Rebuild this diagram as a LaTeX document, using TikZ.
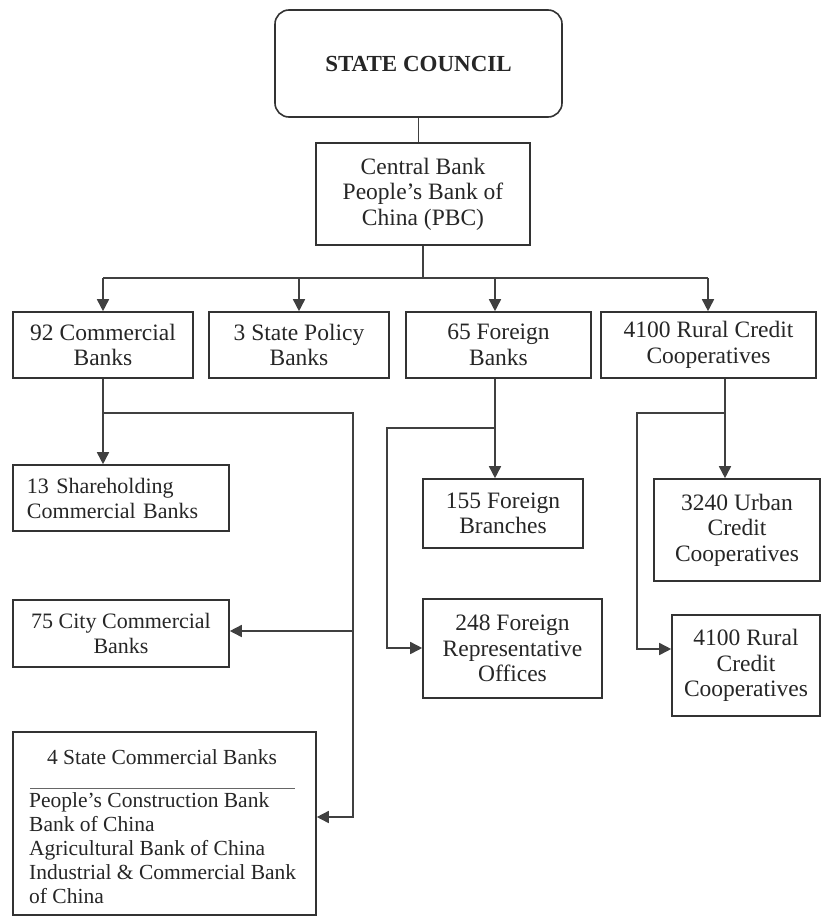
\documentclass[tikz,border=0pt]{standalone}
\usepackage{fontspec}
\setmainfont{Liberation Serif}
\usetikzlibrary{arrows.meta}
\begin{document}
\begin{tikzpicture}[x=1pt,y=-1pt,
  box/.style={draw=black!80, line width=1.6pt, fill=white, text=black!85, align=center, inner sep=2pt, font=\fontsize{23.5}{25.5}\selectfont},
  lbox/.style={box, align=left, inner xsep=14pt},
  conn/.style={draw=black!75, line width=1.6pt},
  arr/.style={conn, -{Triangle[length=12pt,width=12pt]}},
  plain/.style={text=black!85, inner sep=0pt, font=\fontsize{21.5}{24}\selectfont}]
\useasboundingbox (0,0) rectangle (823,918);
% top
\node[box, rounded corners=14pt, minimum width=287pt, minimum height=107pt, font=\fontsize{23}{25}\selectfont\bfseries] (sc) at (418.5,63.5) {STATE COUNCIL};
\node[box, minimum width=214pt, minimum height=102pt] (cb) at (423,194) {Central Bank\\People's Bank of\\China (PBC)};
% row
\node[box, minimum width=180pt, minimum height=66pt] (b92) at (103,345) {92 Commercial\\Banks};
\node[box, minimum width=180pt, minimum height=66pt] (b3) at (299,345) {3 State Policy\\Banks};
\node[box, minimum width=185pt, minimum height=66pt] (b65) at (498.5,345) {65 Foreign\\Banks};
\node[box, minimum width=215pt, minimum height=66pt] (b41) at (708.5,345) {4100 Rural Credit\\Cooperatives};
% commercial column
\node[lbox, minimum width=216pt, minimum height=66pt, text width=188pt, font=\fontsize{22}{25}\selectfont] (b13) at (121,498) {13 Shareholding\\Commercial Banks};
\node[box, minimum width=216pt, minimum height=67pt, font=\fontsize{22}{25}\selectfont] (b75) at (121,633.5) {75 City Commercial\\Banks};
\node[box, minimum width=303pt, minimum height=183pt] (b4) at (164.5,823.5) {};
\node[plain] (b4t) at (162,757) {4 State Commercial Banks};
\draw[draw=black!60, line width=1pt] (30,788) -- (295,788);
\node[plain, anchor=north west, align=left] (b4l) at (29,792) {People's Construction Bank\\Bank of China\\Agricultural Bank of China\\Industrial \& Commercial Bank\\of China};
% foreign column
\node[box, minimum width=160pt, minimum height=69pt] (b155) at (503,513.5) {155 Foreign\\Branches};
\node[box, minimum width=179pt, minimum height=99pt] (b248) at (512.5,648.5) {248 Foreign\\Representative\\Offices};
% rural column
\node[box, minimum width=166pt, minimum height=102pt] (b3240) at (737,530) {3240 Urban\\Credit\\Cooperatives};
\node[box, minimum width=148pt, minimum height=101pt] (b4100) at (746,665.5) {4100 Rural\\Credit\\Cooperatives};
% connectors top
\draw[conn] (sc.south) -- (sc.south |- cb.north);
\coordinate (bus) at (423,278);
\coordinate (busL) at (103,278);
\coordinate (busR) at (708,278);
\coordinate (f0) at (495,278);
\draw[conn] (cb.south) -- (bus);
\draw[conn] (busL) -- (busR);
\draw[arr] (busL) -- (busL |- b92.north);
\draw[arr] (b3.north |- bus) -- (b3.north);
\draw[arr] (f0) -- (f0 |- b65.north);
\draw[arr] (busR) -- (busR |- b41.north);
% commercial
\coordinate (c1) at (103,413);
\coordinate (c2) at (353,413);
\coordinate (c3) at (353,817);
\coordinate (c4) at (353,631);
\draw[arr] (b92.south) -- (b13.north -| b92.south);
\draw[arr] (c1) -- (c2) -- (c3) -- (c3 -| b4.east);
\draw[arr] (c4) -- (c4 -| b75.east);
% foreign
\coordinate (f3) at (495,428);
\coordinate (f4) at (387,428);
\coordinate (f5) at (387,648);
\draw[arr] (f0 |- b65.south) -- (f0 |- b155.north);
\draw[arr] (f3) -- (f4) -- (f5) -- (f5 -| b248.west);
% rural
\coordinate (r1) at (725,413);
\coordinate (r2) at (637,413);
\coordinate (r3) at (637,649);
\draw[arr] (r1 |- b41.south) -- (r1 |- b3240.north);
\draw[arr] (r1) -- (r2) -- (r3) -- (r3 -| b4100.west);
\end{tikzpicture}
\end{document}
